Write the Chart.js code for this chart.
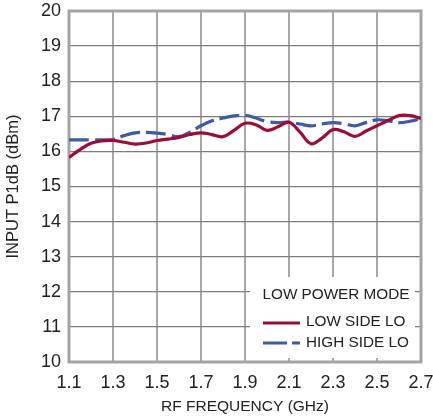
<!DOCTYPE html>
<html>
<head>
<meta charset="utf-8">
<script src="https://cdn.jsdelivr.net/npm/chart.js@4.4.1/dist/chart.umd.min.js"></script>
<style>
  html, body { margin: 0; padding: 0; background: #fff; }
  #wrap { width: 433px; height: 418px; }
</style>
</head>
<body>
<div id="wrap"><canvas id="chart"></canvas></div>
<script>
// RF frequency (GHz)
const freq = [1.10, 1.15, 1.20, 1.25, 1.30, 1.35, 1.40, 1.45, 1.50, 1.55, 1.60,
              1.65, 1.70, 1.75, 1.80, 1.85, 1.90, 1.95, 2.00, 2.05, 2.10, 2.15,
              2.20, 2.25, 2.30, 2.35, 2.40, 2.45, 2.50, 2.55, 2.60, 2.65, 2.70];
// input P1dB (dBm)
const lowSideLO  = [15.83, 16.05, 16.23, 16.30, 16.31, 16.26, 16.21, 16.24, 16.31, 16.35, 16.40,
                    16.48, 16.53, 16.48, 16.42, 16.60, 16.80, 16.76, 16.60, 16.70, 16.83, 16.55,
                    16.22, 16.38, 16.62, 16.56, 16.43, 16.58, 16.73, 16.88, 17.02, 17.02, 16.94];
const highSideLO = [16.33, 16.33, 16.33, 16.33, 16.34, 16.45, 16.53, 16.54, 16.52, 16.48, 16.42,
                    16.55, 16.73, 16.87, 16.95, 17.01, 17.03, 16.95, 16.85, 16.82, 16.83, 16.78,
                    16.73, 16.78, 16.82, 16.79, 16.73, 16.82, 16.90, 16.87, 16.82, 16.86, 16.93];
const xTicks = [1.1, 1.3, 1.5, 1.7, 1.9, 2.1, 2.3, 2.5, 2.7];
const yTicks = [10, 11, 12, 13, 14, 15, 16, 17, 18, 19, 20];

const RED = '#9b0d36';
const BLUE = '#3d5ba6';

function toPoints(vals) {
  return freq.map((f, i) => ({ x: f, y: vals[i] }));
}

// grey frame around the plot + the boxed key in the lower right
const frameAndKey = {
  id: 'frameAndKey',
  beforeDatasetsDraw(chart) {
    const { ctx, chartArea: a } = chart;
    ctx.save();
    ctx.strokeStyle = '#a3a3a3';
    ctx.lineWidth = 3;
    ctx.strokeRect(a.left, a.top, a.right - a.left, a.bottom - a.top);
    ctx.restore();
  },
  afterDatasetsDraw(chart) {
    const { ctx, chartArea: a } = chart;
    const bx = a.right - 171, by = a.bottom - 85;
    ctx.save();
    ctx.fillStyle = '#fff';
    ctx.fillRect(bx, by, 165, 81);

    ctx.fillStyle = '#222';
    ctx.font = '15.3px "Liberation Sans", Arial, sans-serif';
    ctx.textBaseline = 'middle';
    ctx.textAlign = 'center';
    ctx.fillText('LOW POWER MODE', bx + 86, by + 18);

    ctx.textAlign = 'left';
    ctx.fillText('LOW SIDE LO', bx + 56, by + 45);
    ctx.fillText('HIGH SIDE LO', bx + 56, by + 66);

    ctx.lineWidth = 3.2;
    ctx.strokeStyle = RED;
    ctx.beginPath();
    ctx.moveTo(bx + 13, by + 46);
    ctx.lineTo(bx + 50, by + 46);
    ctx.stroke();

    ctx.strokeStyle = BLUE;
    ctx.setLineDash([24, 5]);
    ctx.beginPath();
    ctx.moveTo(bx + 13, by + 66);
    ctx.lineTo(bx + 50, by + 66);
    ctx.stroke();
    ctx.restore();
  }
};

new Chart(document.getElementById('chart'), {
  type: 'line',
  data: {
    datasets: [
      {
        label: 'LOW SIDE LO',
        data: toPoints(lowSideLO),
        borderColor: RED,
        borderWidth: 3.2,
        pointRadius: 0,
        tension: 0.4,
        fill: false
      },
      {
        label: 'HIGH SIDE LO',
        data: toPoints(highSideLO),
        borderColor: BLUE,
        borderWidth: 3.2,
        borderDash: [20, 6],
        pointRadius: 0,
        tension: 0.4,
        fill: false
      }
    ]
  },
  options: {
    responsive: true,
    maintainAspectRatio: false,
    animation: false,
    layout: { padding: { top: 11, right: 12, left: 0, bottom: 0 } },
    plugins: {
      legend: { display: false },
      tooltip: { enabled: false }
    },
    scales: {
      x: {
        type: 'linear',
        min: 1.1,
        max: 2.7,
        afterBuildTicks: (axis) => { axis.ticks = xTicks.map(v => ({ value: v })); },
        afterFit: (axis) => {
          axis.height = 56;
          axis.paddingLeft = 0;
          axis.paddingRight = 0;
        },
        grid: { color: '#a8a8a8', lineWidth: 2, drawTicks: false },
        border: { display: false },
        ticks: {
          color: '#222',
          padding: 10,
          maxRotation: 0,
          font: { family: '"Liberation Sans Narrow", "Liberation Sans", sans-serif', size: 18 },
          callback: (v) => Number(v).toFixed(1)
        },
        title: {
          display: true,
          text: 'RF FREQUENCY (GHz)',
          color: '#222',
          padding: { top: 0, bottom: 2 },
          font: { family: '"Liberation Sans", Arial, sans-serif', size: 15.5 }
        }
      },
      y: {
        min: 10,
        max: 20,
        afterBuildTicks: (axis) => { axis.ticks = yTicks.map(v => ({ value: v })); },
        afterFit: (axis) => {
          axis.width = 69;
          axis.paddingTop = 0;
          axis.paddingBottom = 0;
        },
        grid: { color: '#7d7d7d', lineWidth: 1.2, drawTicks: false },
        border: { display: false },
        ticks: {
          color: '#222',
          padding: 8,
          font: { family: '"Liberation Sans Narrow", "Liberation Sans", sans-serif', size: 18 }
        },
        title: {
          display: true,
          text: 'INPUT P1dB (dBm)',
          color: '#222',
          padding: { top: 4, bottom: 0 },
          font: { family: '"Liberation Sans", Arial, sans-serif', size: 16.5 }
        }
      }
    }
  },
  plugins: [frameAndKey]
});
</script>
</body>
</html>
